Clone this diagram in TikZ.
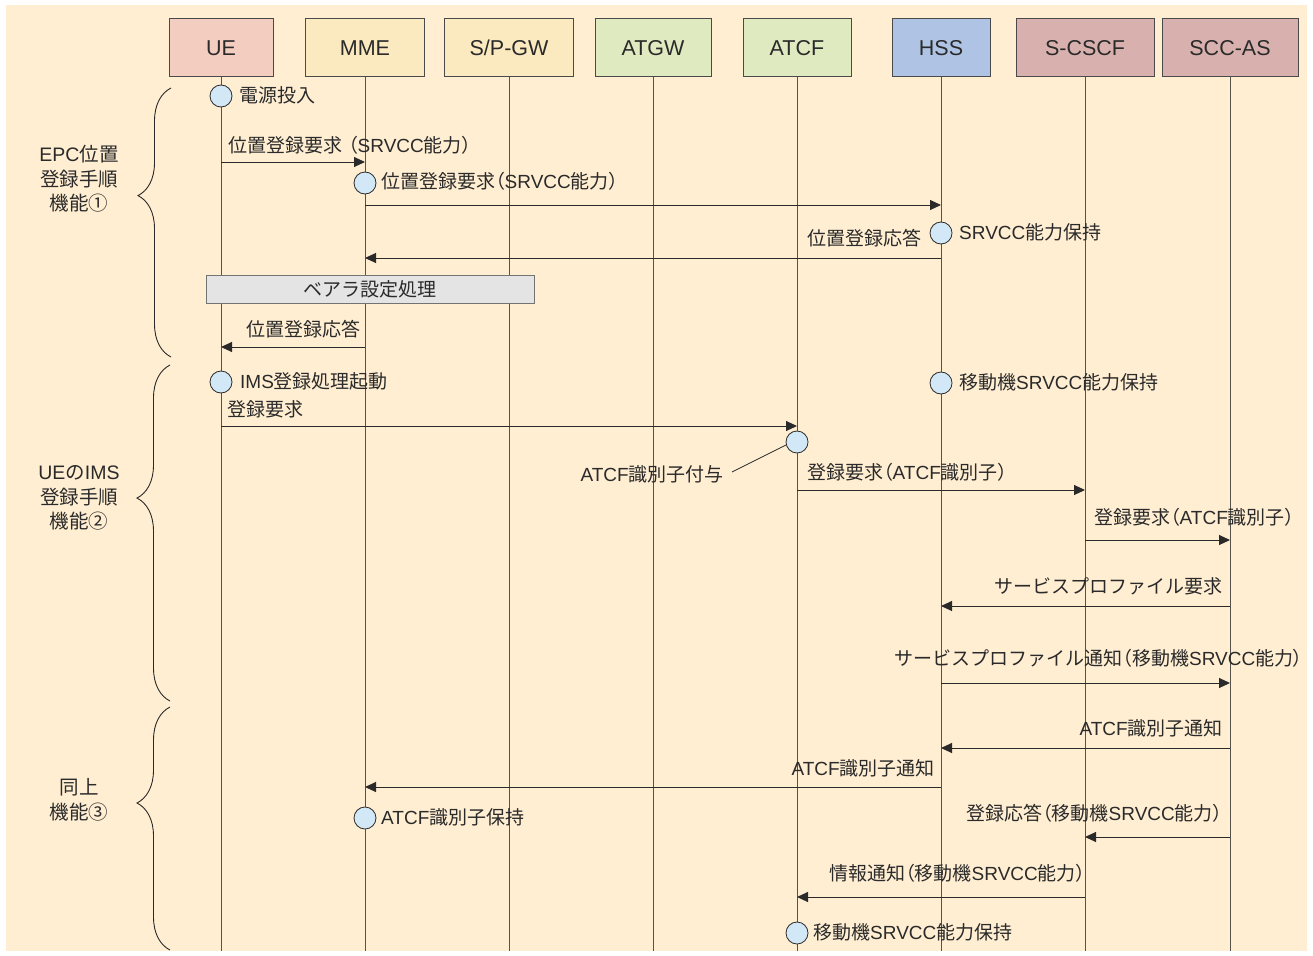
\documentclass[tikz,border=0pt]{standalone}
\usepackage{fontspec}
\setmainfont{Noto Sans CJK JP}
\newfontfamily\latnfont{Liberation Sans}
\newfontfamily\cjkprop{Noto Sans CJK JP}[RawFeature=+palt]
\newcommand\latn[1]{{\latnfont #1}}
% proportional full-width brackets
\newcommand\jlp{{\cjkprop （}}
\newcommand\jrp{{\cjkprop ）}}
\usetikzlibrary{arrows.meta,decorations.pathreplacing,calc}

\definecolor{bgc}{HTML}{FFEED2}
\definecolor{uec}{HTML}{F3CEC0}
\definecolor{mmec}{HTML}{FBE9BF}
\definecolor{gwc}{HTML}{DFEAC1}
\definecolor{hssc}{HTML}{AFC4E4}
\definecolor{cscfc}{HTML}{D8B1AF}
\definecolor{evc}{HTML}{D3E8F7}
\definecolor{bearc}{HTML}{E4E4E4}
\definecolor{inkc}{HTML}{2A2A2A}
\definecolor{lifec}{HTML}{55524C}

\tikzset{
  entity/.style={draw=inkc!85, line width=1pt, minimum height=58pt, inner sep=0pt,
    font=\latnfont\fontsize{21.5}{24}\selectfont, text=inkc},
  life/.style={draw=lifec, line width=0.9pt},
  msg/.style={draw=inkc, line width=1pt, -{Triangle[length=11pt,width=10pt]}},
  ev/.style={circle, draw=inkc, line width=0.8pt, fill=evc, minimum size=22pt, inner sep=0pt},
  lbl/.style={inner sep=0pt, text height=16pt, text depth=3pt, text=inkc,
    font=\fontsize{19}{24}\selectfont},
  grp/.style={align=center, inner sep=0pt, text=inkc, font=\fontsize{19.5}{24.5}\selectfont},
  bracket/.style={draw=inkc, line width=0.9pt, decorate},
  bearer/.style={draw=black!55, line width=1pt, fill=bearc, minimum width=328pt,
    minimum height=28pt, inner sep=0pt, text=inkc, font=\fontsize{19}{24}\selectfont},
}

\begin{document}
\begin{tikzpicture}[x=1pt, y=-1pt]
  \useasboundingbox (0,0) rectangle (1313,955);
  \fill[bgc] (6,5) rectangle (1307,951);

  % participants
  \node[entity, fill=uec,   minimum width=104pt] (UE)    at (221,48)  {UE};
  \node[entity, fill=mmec,  minimum width=119pt] (MME)   at (365,48)  {MME};
  \node[entity, fill=mmec,  minimum width=129pt] (SPGW)  at (509,48)  {S/P-GW};
  \node[entity, fill=gwc,   minimum width=116pt] (ATGW)  at (653,48)  {ATGW};
  \node[entity, fill=gwc,   minimum width=108pt] (ATCF)  at (797,48)  {ATCF};
  \node[entity, fill=hssc,  minimum width=98pt]  (HSS)   at (941,48)  {HSS};
  \node[entity, fill=cscfc, minimum width=138pt] (SCSCF) at (1085,48) {S-CSCF};
  \node[entity, fill=cscfc, minimum width=136pt] (SCCAS) at (1230,48) {SCC-AS};

  % lifelines
  \foreach \p in {UE,MME,SPGW,ATGW,ATCF,HSS,SCSCF,SCCAS}
    \draw[life] (\p.south) -- (\p.south |- 0,951);

  % phase brackets
  \draw[bracket, decoration={brace, amplitude=33pt, aspect=0.6}] (171,357) -- (171,88);
  \draw[bracket, decoration={brace, amplitude=33pt, aspect=0.604}] (170,701) -- (170,365);
  \draw[bracket, decoration={brace, amplitude=33pt, aspect=0.605}] (170,950) -- (170,707);
  \node[grp] (g1) at (79,179) {\latn{EPC}位置\\登録手順\\機能①};
  \node[grp] (g2) at (79,498) {\latn{UE}の\latn{IMS}\\登録手順\\機能②};
  \node[grp] (g3) at (79,800) {同上\\機能③};

  % bearer setup
  \node[bearer] (bear) at (370,289) {ベアラ設定処理};

  % messages
  \draw[msg] (UE |- 0,162)    -- (MME |- 0,162);
  \draw[msg] (MME |- 0,205)   -- (HSS |- 0,205);
  \draw[msg] (HSS |- 0,258)   -- (MME |- 0,258);
  \draw[msg] (MME |- 0,347)   -- (UE |- 0,347);
  \draw[msg] (UE |- 0,426)    -- (ATCF |- 0,426);
  \draw[msg] (ATCF |- 0,490)  -- (SCSCF |- 0,490);
  \draw[msg] (SCSCF |- 0,540) -- (SCCAS |- 0,540);
  \draw[msg] (SCCAS |- 0,606) -- (HSS |- 0,606);
  \draw[msg] (HSS |- 0,683)   -- (SCCAS |- 0,683);
  \draw[msg] (SCCAS |- 0,748) -- (HSS |- 0,748);
  \draw[msg] (HSS |- 0,787)   -- (MME |- 0,787);
  \draw[msg] (SCCAS |- 0,837) -- (SCSCF |- 0,837);
  \draw[msg] (SCSCF |- 0,897) -- (ATCF |- 0,897);

  % events on lifelines
  \node[ev] (c1) at (UE |- 0,96)   {};
  \node[ev] (c2) at (MME |- 0,183) {};
  \node[ev] (c3) at (HSS |- 0,233) {};
  \node[ev] (c4) at (UE |- 0,382)  {};
  \node[ev] (c5) at (HSS |- 0,383) {};
  \node[ev] (c6) at (ATCF |- 0,442) {};
  \node[ev] (c7) at (MME |- 0,818) {};
  \node[ev] (c8) at (ATCF |- 0,933) {};

  % labels
  \node[lbl, anchor=west] (t1)  at (239,96)   {電源投入};
  \node[lbl, anchor=west] (t2)  at (228,146)  {位置登録要求\hspace{6pt}\jlp\latn{SRVCC}能力\jrp};
  \node[lbl, anchor=west] (t3)  at (381,182)  {位置登録要求\jlp\latn{SRVCC}能力\jrp};
  \node[lbl, anchor=west] (t4)  at (959,233)  {\latn{SRVCC}能力保持};
  \node[lbl, anchor=east] (t5)  at (922,239)  {位置登録応答};
  \node[lbl, anchor=east] (t7)  at (361,330)  {位置登録応答};
  \node[lbl, anchor=west] (t8)  at (240,382)  {\latn{IMS}登録処理起動};
  \node[lbl, anchor=west] (t9)  at (959,383)  {移動機\latn{SRVCC}能力保持};
  \node[lbl, anchor=west] (t10) at (227,410)  {登録要求};
  \node[lbl, anchor=east] (t11) at (724,475)  {\latn{ATCF}識別子付与};
  \node[lbl, anchor=west] (t12) at (807,473)  {登録要求\jlp\latn{ATCF}識別子\jrp};
  \node[lbl, anchor=west] (t13) at (1094,518) {登録要求\jlp\latn{ATCF}識別子\jrp};
  \node[lbl, anchor=east] (t14) at (1223,587) {サービスプロファイル要求};
  \node[lbl, anchor=east] (t15) at (1303,659) {サービスプロファイル通知\jlp 移動機\latn{SRVCC}能力\jrp};
  \node[lbl, anchor=east] (t16) at (1223,729) {\latn{ATCF}識別子通知};
  \node[lbl, anchor=east] (t17) at (935,769)  {\latn{ATCF}識別子通知};
  \node[lbl, anchor=west] (t18) at (381,818)  {\latn{ATCF}識別子保持};
  \node[lbl, anchor=west] (t19) at (966,814)  {登録応答\jlp 移動機\latn{SRVCC}能力\jrp};
  \node[lbl, anchor=west] (t20) at (829,874)  {情報通知\jlp 移動機\latn{SRVCC}能力\jrp};
  \node[lbl, anchor=west] (t21) at (813,933)  {移動機\latn{SRVCC}能力保持};

  % pointer from the ATCF event to its note
  \draw[draw=inkc, line width=0.8pt] (c6.195) -- ($(t11.east)+(8,-3)$);
\end{tikzpicture}
\end{document}
